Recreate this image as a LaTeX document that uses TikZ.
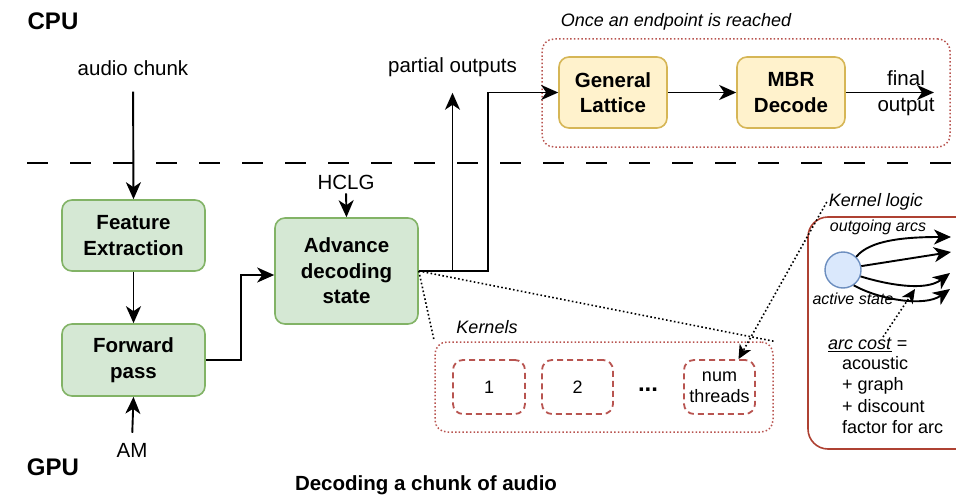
\documentclass[tikz,border=0pt]{standalone}
\usepackage{fontspec}
\setmainfont{Liberation Sans}
\usetikzlibrary{arrows.meta}
\definecolor{gfill}{HTML}{D5E8D4}
\definecolor{gdraw}{HTML}{82B366}
\definecolor{yfill}{HTML}{FFF2CC}
\definecolor{ydraw}{HTML}{D6B656}
\definecolor{rdraw}{HTML}{B85450}
\definecolor{rdark}{HTML}{AE4132}
\definecolor{bfill}{HTML}{DAE8FC}
\definecolor{bdraw}{HTML}{6C8EBF}
\newcommand\szA{\fontsize{20.5}{25.5}\selectfont}
\newcommand\szB{\fontsize{18}{21.5}\selectfont}
\newcommand\szC{\fontsize{16}{19}\selectfont}
\newcommand\szD{\fontsize{24}{28}\selectfont}
\begin{document}
\begin{tikzpicture}[x=1pt,y=-1pt,
  arr/.style={line width=1.9pt,-{Stealth[length=17pt,width=15pt,inset=5pt]}},
  dotline/.style={line width=1.6pt,dash pattern=on 1.6pt off 2.4pt},
  dotarr/.style={dotline,-{Stealth[length=14pt,width=13pt,inset=4pt]}},
  greenbox/.style={draw=gdraw,fill=gfill,line width=1.6pt,rounded corners=10pt,
    inner sep=0pt,align=center,font=\bfseries\szA},
  yellowbox/.style={draw=ydraw,fill=yfill,line width=1.6pt,rounded corners=10pt,
    inner sep=0pt,align=center,font=\bfseries\szA,minimum width=108pt,minimum height=71pt},
  redzone/.style={draw=rdraw,line width=1.5pt,dash pattern=on 1.5pt off 2.2pt,
    rounded corners=12pt,inner sep=0pt},
  kernbox/.style={draw=rdraw,line width=1.8pt,dash pattern=on 6pt off 4pt,
    rounded corners=10pt,inner sep=0pt,align=center,font=\szB,
    minimum width=71pt,minimum height=54pt},
  lbl/.style={font=\szA,inner sep=2pt},
  ital/.style={font=\itshape\szB,inner sep=2pt},
  smallital/.style={font=\itshape\szC,inner sep=1pt}]
\useasboundingbox (0,0) rectangle (956,495);

% section labels
\node[font=\bfseries\szD] (cpu) at (53,21) {CPU};
\node[font=\bfseries\szD] (gpu) at (53,467) {GPU};
\node[font=\bfseries\szA] (title) at (426,485) {Decoding a chunk of audio};

% CPU / GPU separator
\draw[line width=1.6pt,dash pattern=on 21pt off 22pt] (27,163) -- (956,163);

% containers
\node[redzone,minimum width=408pt,minimum height=108pt] (endzone) at (746,93) {};
\node[ital] (endlbl) at (676,22) {Once an endpoint is reached};
\node[redzone,minimum width=338pt,minimum height=90pt] (kzone) at (604,387) {};
\node[ital] (klbl) at (487,327) {Kernels};
\node[draw=rdark,line width=1.6pt,rounded corners=20pt,minimum width=180pt,
  minimum height=232pt,inner sep=0pt] (logic) at (898,333) {};
\node[ital] (logiclbl) at (876,202) {Kernel logic};

% main boxes
\node[greenbox,minimum width=143pt,minimum height=71pt] (fe) at (133.5,235.5) {Feature\\Extraction};
\node[greenbox,minimum width=143pt,minimum height=72pt] (fp) at (133.5,360) {Forward\\pass};
\node[greenbox,minimum width=143pt,minimum height=106pt] (adv) at (346.5,271) {Advance\\decoding\\state};
\node[yellowbox] (gl) at (613,92.5) {General\\Lattice};
\node[yellowbox] (mbr) at (791,92.5) {MBR\\Decode};

% kernel boxes
\node[kernbox,minimum width=72pt] (k1) at (489,387) {1};
\node[kernbox] (k2) at (577.5,387) {2};
\node[font=\bfseries\fontsize{24}{28}\selectfont] (kdots) at (648,390) {...};
\node[kernbox,inner sep=0pt] (k3) at (719.5,387) {num\\threads};

% text labels
\node[lbl] (audio) at (133,68) {audio chunk};
\node[lbl] (po) at (452.5,67) {partial outputs};
\node[lbl] (hclg) at (346,182) {HCLG};
\node[lbl] (am) at (132,450) {AM};
\node[font=\szA,align=center,inner sep=0pt] (fout) at (906,93) {final\\output};

% main flow
\draw[arr,shorten <=14pt] (audio.south) -- (fe.north);
\draw[arr] (fe.south) -- (fp.north);
\draw[arr,shorten <=8pt] (am.north) -- (fp.south);
\draw[arr,shorten <=2pt] (hclg.south) -- (adv.north);
\draw[arr] (fp.east) -- ++(35,0) |- ([yshift=-4pt]adv.west);
\draw[arr,shorten >=14pt] (adv.east) -| (po.south);
\coordinate (j2) at (488,271);
\draw[arr] (adv.east) -- (j2) |- (gl.west);
\draw[arr] (gl.east) -- (mbr.east -| mbr.west);
\coordinate (fend) at (934,92.5);
\draw[arr] (mbr.east) -- (fend);

% zoom-out dotted lines
\draw[dotline] (adv.east) -- (kzone.north west);
\draw[dotline] (adv.east) -- (kzone.north east);
\draw[dotarr] (logiclbl.west) -- ([xshift=19pt]k3.north);

% kernel logic detail
\node[circle,draw=bdraw,fill=bfill,line width=1.4pt,minimum size=36pt,inner sep=0pt] (st) at (843,270) {};
\node[smallital] (outlbl) at (878,227) {outgoing arcs};
\node[smallital] (actlbl) at (853,299) {active state};
\coordinate (e1) at (951,237);
\coordinate (e2) at (951,252);
\coordinate (e3) at (950,273);
\coordinate (e4) at (950,289);
\draw[arr] (st.45) .. controls (870,240) and (905,237) .. (e1);
\draw[arr] (st.12) -- (e2);
\draw[arr] (st.-20) .. controls (885,284) and (925,292) .. (e3);
\draw[arr] (st.-55) .. controls (880,300) and (925,307) .. (e4);

\node[font=\szB,anchor=west,inner sep=0pt] (cost) at (828,345) {\underline{\textit{arc cost}} =};
\node[font=\szB,anchor=north west,align=left,inner sep=0pt] (form) at (842,356) {acoustic\\+ graph\\+ discount\\factor for arc};
\coordinate (cs) at (883,337);
\coordinate (ce) at (915,289);
\draw[dotarr] (cs) -- (ce);
\end{tikzpicture}
\end{document}
